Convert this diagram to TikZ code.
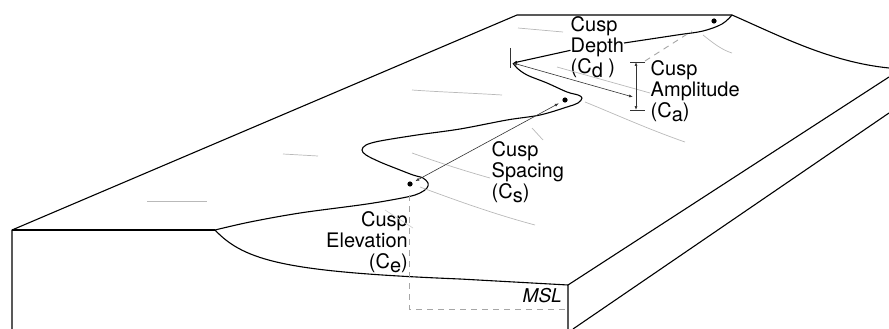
\documentclass[tikz,border=0pt]{standalone}
\usepackage{fontspec}
\setmainfont{TeX Gyre Heros}
\usetikzlibrary{arrows.meta}
\newcommand{\lowsub}[1]{\raisebox{-4pt}{#1}}

\begin{document}
\begin{tikzpicture}[x=1pt,y=-1pt,>={Latex[length=4pt,width=3pt]},
    edge/.style={line width=1.1pt,line join=round},
    contour/.style={gray!55,line width=0.7pt},
    dim/.style={black!80,line width=0.6pt},
    msldash/.style={gray!70,line width=0.9pt,dash pattern=on 6pt off 5pt},
    lbl/.style={inner sep=0pt,align=left,font=\fontsize{20}{21}\selectfont}]
        \useasboundingbox (0,0) rectangle (889,329);
        % 块体轮廓
        \draw[edge](12,329)--(12,230)--(517,15)--(732,15);
        \draw[edge](732,15) .. controls (780,36) and (830,62) .. (889,68);
        \draw[edge](12,230)--(215,230);
        \draw[edge](568,329)--(568,285)--(889,77);
        \draw[edge](573,329)--(889,113);
        % 岸线
        \coordinate (branch) at (215,230);
        \coordinate (hornA) at (428,183);
        \coordinate (hornB) at (582,98);
        \coordinate (bayB) at (513,63);
        \coordinate (hornC) at (732,15);
        \draw[edge](branch) .. controls (245,262) and (290,272) .. (460,279)--(568,285);
        \draw[edge]plot[smooth,tension=0.55]coordinates{(215,230)(250,222)(300,213)(367,204)
            (407,197)(420,193)(427,188)(428,183)(423,178)(413,175)(400,170)(380,162)(366,155)
            (362,150)(366,145)(380,141)(417,135)(460,129)(507,120)(540,115)(567,107)(578,103)
            (582,98)(578,95)(567,92)(547,83)(527,75)(517,68)(513,63)};
        % 标注
        \node[lbl,anchor=north west](depth)at(570.5,16.5){Cusp\\Depth\\(C\lowsub{d} )};
        \node[lbl,anchor=north west](amp)at(650.5,60.5){Cusp\\Amplitude\\(C\lowsub{a})};
        \node[lbl,anchor=north west](spacing)at(491.5,141.5){Cusp\\Spacing\\(C\lowsub{s})};
        \node[lbl,align=right,anchor=north east](elev)at(408,211.5){Cusp\\Elevation\\(C\lowsub{e})};
        \node[inner sep=0pt,anchor=base east,font=\fontsize{19}{21}\selectfont\itshape](msl)at(562,302){MSL};
        \draw[edge,->]([yshift=-3pt]depth.west)--(bayB);
        \draw[edge]plot[smooth,tension=0.6]coordinates{(624,43)(677,35)(703,31)(722,24)(hornC)};
        % 浅灰等高线
        \draw[contour](147,201)--(207,201);
        \draw[contour](283,154)--(318,156);
        \draw[contour](412,90) .. controls (440,92) and (470,93) .. (502,95);
        \draw[contour](518,28)--(563,32);
        \draw[contour](412,153) .. controls (440,163) and (465,171) .. (490,178);
        \draw[contour](420,187) .. controls (450,198) and (490,213) .. (535,225);
        \draw[contour](585,102) .. controls (610,112) and (650,130) .. (685,142);
        \draw[contour](532,128)--(543,140);
        \draw[contour](557,67)--(650,93);
        \draw[contour](703,35) .. controls (713,43) and (722,50) .. (732,53);
        \draw[contour,gray!35](385,210)--(413,228);
        % 尖点
        \coordinate (dotA) at (410,184);
        \coordinate (dotB) at (565,100);
        \coordinate (dotC) at (714,21);
        \foreach \p in {dotA,dotB,dotC} \fill (\p) circle (2.6);
        % 间距与幅度
        \draw[dim,<->,shorten <=6pt,shorten >=7pt](dotA)--(dotB);
        \coordinate (ampT) at (636,62);
        \coordinate (ampB) at (636,110);
        \draw[dim,<->](bayB)--(633,97);
        \draw[dim,<->](ampT)--(ampB);
        \draw[dim](630,62)--(645,62);
        \draw[dim](630,110)--(645,110);
        \draw[msldash](645,61)--(692,31);
        \draw[dim](510,48)--(510,68);
        % 高程
        \draw[msldash](409,195)--(409,309)--(568,309);
    \end{tikzpicture}
\end{document}
